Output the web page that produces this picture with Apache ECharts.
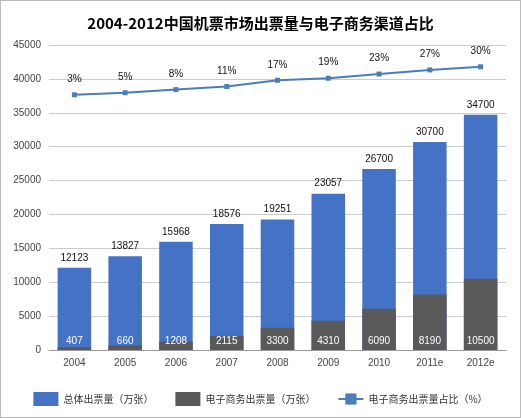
<!DOCTYPE html>
<html><head><meta charset="utf-8">
<script src="https://cdn.jsdelivr.net/npm/echarts@6/dist/echarts.min.js"></script>
<style>html,body{margin:0;padding:0;background:#fff}#c{width:519px;height:416px;border:1px solid #bbb}</style>
</head><body><div id="c"></div>
<script>
var years=['2004','2005','2006','2007','2008','2009','2010','2011e','2012e'];
var total=[12123,13827,15968,18576,19251,23057,26700,30700,34700];
var ecom=[407,660,1208,2115,3300,4310,6090,8190,10500];
var share=[3,5,8,11,17,19,23,27,30];
var f='"Microsoft YaHei","Noto Sans CJK SC",sans-serif';
var chart=echarts.init(document.getElementById('c'));
chart.setOption({
 title:{text:'2004-2012中国机票市场出票量与电子商务渠道占比',left:'center',top:10,textStyle:{fontSize:15,fontWeight:'bold',color:'#000',fontFamily:f}},
 grid:{left:48,right:14,top:44,bottom:67},
 legend:{bottom:6,itemGap:22,textStyle:{fontSize:10,color:'#333',fontFamily:f},
  data:[{name:'总体出票量（万张）',icon:'rect'},{name:'电子商务出票量（万张）',icon:'rect'},{name:'电子商务出票量占比（%）'}]},
 xAxis:{type:'category',data:years,axisTick:{show:false},axisLine:{lineStyle:{color:'#999'}},axisLabel:{color:'#444',fontSize:10}},
 yAxis:[{type:'value',min:0,max:45000,interval:5000,axisLabel:{color:'#444',fontSize:10,formatter:function(v){return String(v);}},splitLine:{lineStyle:{color:'#ccc'}}},
  {type:'value',min:-243,max:51,show:false,splitLine:{show:false}}],
 series:[
  {name:'总体出票量（万张）',type:'bar',data:total,barWidth:'66%',itemStyle:{color:'#4472c4'},
   label:{show:true,position:'top',color:'#111',fontSize:10}},
  {name:'电子商务出票量（万张）',type:'bar',data:ecom,barWidth:'66%',barGap:'-100%',itemStyle:{color:'#595959'},
   label:{show:true,position:'insideBottom',distance:4,color:'#fff',fontSize:10}},
  {name:'电子商务出票量占比（%）',type:'line',yAxisIndex:1,data:share,symbol:'rect',symbolSize:5,
   lineStyle:{color:'#4a7ebb',width:2},itemStyle:{color:'#4a7ebb'},
   label:{show:true,position:'top',distance:8,formatter:'{c}%',color:'#111',fontSize:10}}
 ]
});
</script></body></html>
